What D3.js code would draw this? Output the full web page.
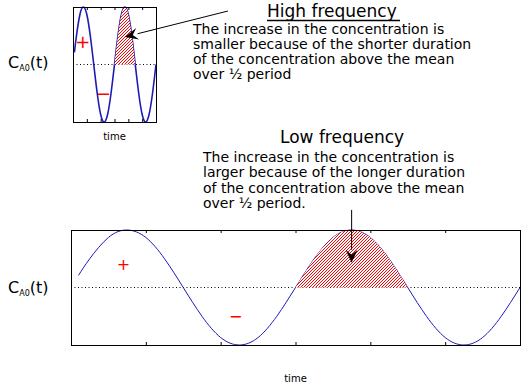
<!DOCTYPE html>
<html><head><meta charset="utf-8">
<script src="https://cdn.jsdelivr.net/npm/d3@7"></script>
<style>body{margin:0;background:#fff}svg{display:block;font-family:"DejaVu Sans",sans-serif}</style>
</head><body>
<svg id="c" width="525" height="383"></svg>
<script>
// ---- data ----
const times  = [0.1,0.25,0.5,0.75,1.0,1.25,1.5,1.75,2.0,2.25,2.5,2.75,3.0,3.25,3.5,3.75,4.0,4.25,4.5,4.75,5.0,5.25,5.5,5.75,6.0];
const conc   = [0.21,0.5,0.87,1.0,0.87,0.5,0.0,-0.5,-0.87,-1.0,-0.87,-0.5,0.0,0.5,0.87,1.0,0.87,0.5,0.0,-0.5,-0.87,-1.0,-0.87,-0.5,0.0];
const halfPeriod = [3.0, 4.5];          // shaded interval above the mean
const xTicks = [1,2,3,4,5];
const highText = ["The increase in the concentration is","smaller because of the shorter duration","of the concentration above the mean","over \u00bd period"];
const lowText  = ["The increase in the concentration is","larger because of the longer duration","of the concentration above the mean","over \u00bd period."];
const signs = [{s:"+", t:0.7, c:0.4},{s:"\u2212", t:2.2, c:-0.5}];
const arrowHigh = {from:[11.2,0.93], to:[3.76,0.48]};
const arrowLow  = {from:[3.75,1.35], to:[3.75,0.43]};

const data = times.map((t,i)=>({t, c:conc[i]}));
const svg = d3.select("#c");
const defs = svg.append("defs");
const pat = defs.append("pattern").attr("id","hatch").attr("patternUnits","userSpaceOnUse")
  .attr("width",3).attr("height",3);
pat.append("rect").attr("width",3).attr("height",3).attr("fill","#fff");
pat.append("path").attr("d","M-1,1 L1,-1 M0,3 L3,0 M2,4 L4,2").attr("stroke","#ff0000").attr("stroke-width",1);

function panel(x0,x1,y0,y1,curveW,signSize,arrow,timeGap){
  const x = d3.scaleLinear().domain([0,6]).range([x0,x1]);
  const y = d3.scaleLinear().domain([-1,1]).range([y1,y0]);
  const g = svg.append("g");
  g.append("line").attr("x1",x(0)).attr("x2",x(6)).attr("y1",y(0)).attr("y2",y(0))
    .attr("stroke","#000").attr("stroke-dasharray","1,2.5");
  const line = d3.line().x(d=>x(d.t)).y(d=>y(d.c)).curve(d3.curveNatural);
  g.append("path").datum(data).attr("d",line).attr("fill","none").attr("stroke","#1c1cb4").attr("stroke-width",curveW);
  const sub = data.filter(d=>d.t>=halfPeriod[0]&&d.t<=halfPeriod[1]);
  const area = d3.area().x(d=>x(d.t)).y0(y(0)).y1(d=>y(d.c)).curve(d3.curveNatural);
  g.append("path").datum(sub).attr("d",area).attr("fill","url(#hatch)");
  const ab = d3.axisBottom(x).tickValues(xTicks).tickSize(-3).tickFormat("");
  const at = d3.axisTop(x).tickValues(xTicks).tickSize(-3).tickFormat("");
  g.append("g").attr("transform",`translate(0,${y1})`).call(ab).call(s=>s.select(".domain").remove());
  g.append("g").attr("transform",`translate(0,${y0})`).call(at).call(s=>s.select(".domain").remove());
  g.append("rect").attr("x",x0+0.5).attr("y",y0+0.5).attr("width",x1-x0).attr("height",y1-y0)
    .attr("fill","none").attr("stroke","#000");
  g.selectAll("text.sign").data(signs).join("text").attr("class","sign")
    .attr("x",d=>x(d.t)).attr("y",d=>y(d.c)).attr("dy","0.35em").attr("text-anchor","middle")
    .attr("fill","#ff0000").attr("font-size",signSize).text(d=>d.s);
  const [fx,fy]=[x(arrow.from[0]),y(arrow.from[1])], [tx,ty]=[x(arrow.to[0]),y(arrow.to[1])];
  const ang=Math.atan2(ty-fy,tx-fx), L=13, W=6;
  const bx=tx-L*Math.cos(ang), by=ty-L*Math.sin(ang);
  g.append("line").attr("x1",fx).attr("y1",fy).attr("x2",bx).attr("y2",by).attr("stroke","#000");
  const nx=-Math.sin(ang), ny=Math.cos(ang);
  const mx=tx-8*Math.cos(ang), my=ty-8*Math.sin(ang);
  g.append("path").attr("d",`M${tx},${ty}L${bx+nx*W},${by+ny*W}L${mx},${my}L${bx-nx*W},${by-ny*W}Z`).attr("fill","#000");
  g.append("text").attr("x",(x0+x1)/2).attr("y",y1+timeGap).attr("text-anchor","middle").attr("font-size",10).text("time");
  return {x,y};
}
panel(73,156,7,122,1.6,18,arrowHigh,18);
panel(71,520,230,345,1,16,arrowLow,37);

function ylab(yb){
  const t=svg.append("text").attr("x",8).attr("y",yb).attr("font-size",16);
  t.append("tspan").text("C");
  t.append("tspan").attr("font-size",8).attr("dy",3).text("A0");
  t.append("tspan").attr("dy",-3).text("(t)");
}
ylab(68); ylab(293);

svg.append("text").attr("x",267).attr("y",17).attr("font-size",17).text("High frequency");
svg.append("line").attr("x1",267).attr("x2",400).attr("y1",20.5).attr("y2",20.5).attr("stroke","#000").attr("stroke-width",1.5);
svg.append("text").attr("x",280).attr("y",143).attr("font-size",17).text("Low frequency");
function para(lines,x,y0,dy){
  svg.append("g").selectAll("text").data(lines).join("text")
    .attr("x",x).attr("y",(d,i)=>y0+i*dy).attr("font-size",14).text(d=>d);
}
para(highText,193,34,15);
para(lowText,203,162,15.4);
</script>
</body></html>
